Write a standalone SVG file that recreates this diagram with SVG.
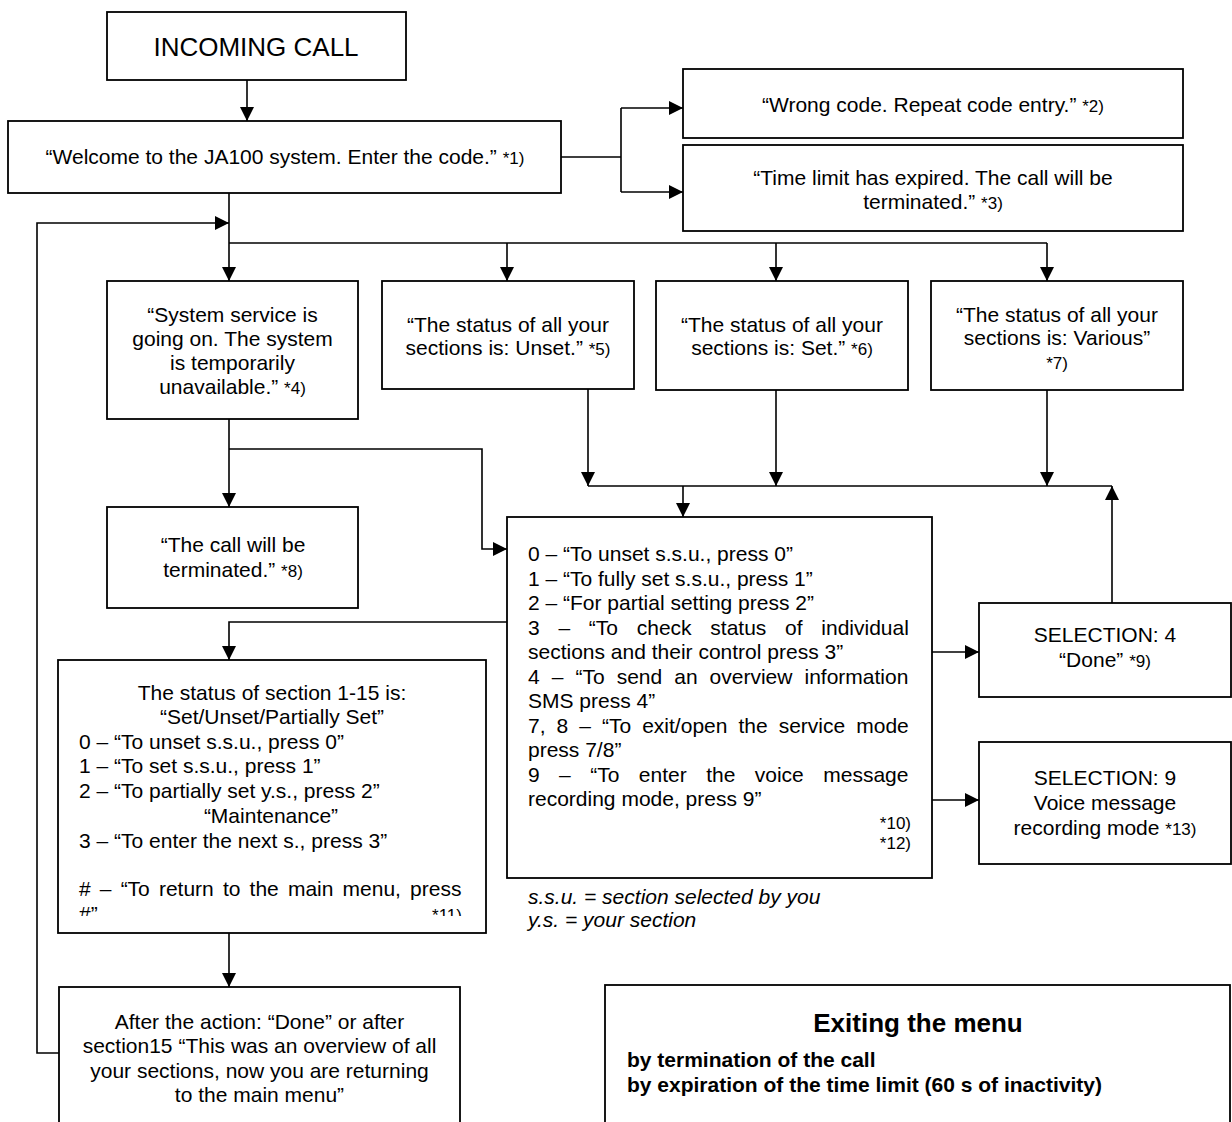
<svg xmlns="http://www.w3.org/2000/svg" width="1232" height="1122" viewBox="0 0 1232 1122">
<defs>
<marker id="ah" markerUnits="userSpaceOnUse" markerWidth="14" markerHeight="14" refX="14" refY="7" orient="auto">
<path d="M0,0 L14,7 L0,14 z" fill="#000"/>
</marker>
<clipPath id="clipStatus"><rect x="58" y="660" width="428" height="256"/></clipPath>
</defs>
<style>
.box{fill:#fff;stroke:#000;stroke-width:1.8}
.t{font-family:"Liberation Sans",Arial,sans-serif;font-size:21px;fill:#000}
.c{text-anchor:middle}
.r{text-anchor:end}
.fn{font-size:17px}
.big{font-size:26px}
.b{font-weight:bold}
.i{font-style:italic}
.ln{fill:none;stroke:#000;stroke-width:1.6}
.ar{marker-end:url(#ah)}
</style>
<rect width="1232" height="1122" fill="#fff"/>

<g id="connectors">
<path class="ln ar" d="M247,80 V121"/>
<path class="ln" d="M561,157 H621 M621,108 V192"/>
<path class="ln ar" d="M621,108 H683"/>
<path class="ln ar" d="M621,192 H683"/>
<path class="ln ar" d="M229,193 V281"/>
<path class="ln ar" d="M59,1053 H37 V223 H229"/>
<path class="ln" d="M229,243 H1047"/>
<path class="ln ar" d="M507,243 V281"/>
<path class="ln ar" d="M776,243 V281"/>
<path class="ln ar" d="M1047,243 V281"/>
<path class="ln ar" d="M588,389 V486"/>
<path class="ln ar" d="M776,390 V486"/>
<path class="ln ar" d="M1047,390 V486"/>
<path class="ln" d="M588,486 H1112"/>
<path class="ln ar" d="M683,486 V517"/>
<path class="ln ar" d="M1112,603 V486"/>
<path class="ln ar" d="M229,419 V507"/>
<path class="ln ar" d="M229,449 H482 V549 H507"/>
<path class="ln ar" d="M507,622 H229 V660"/>
<path class="ln ar" d="M932,652 H979"/>
<path class="ln ar" d="M932,800 H979"/>
<path class="ln ar" d="M229,933 V987"/>
</g>

<g id="incoming">
<rect class="box" x="107" y="12" width="299" height="68"/>
<text class="t c big" x="256" y="56">INCOMING CALL</text>
</g>

<g id="welcome">
<rect class="box" x="8" y="121" width="553" height="72"/>
<text class="t c" x="285" y="164">“Welcome to the JA100 system. Enter the code.” <tspan class="fn">*1)</tspan></text>
</g>

<g id="wrong-code">
<rect class="box" x="683" y="69" width="500" height="69"/>
<text class="t c" x="933" y="112">“Wrong code. Repeat code entry.” <tspan class="fn">*2)</tspan></text>
</g>

<g id="time-limit">
<rect class="box" x="683" y="145" width="500" height="86"/>
<text class="t c" x="933" y="185">“Time limit has expired. The call will be</text>
<text class="t c" x="933" y="209">terminated.” <tspan class="fn">*3)</tspan></text>
</g>

<g id="system-service">
<rect class="box" x="107" y="281" width="251" height="138"/>
<text class="t c" x="232.5" y="322">“System service is</text>
<text class="t c" x="232.5" y="346">going on. The system</text>
<text class="t c" x="232.5" y="370">is temporarily</text>
<text class="t c" x="232.5" y="394">unavailable.” <tspan class="fn">*4)</tspan></text>
</g>

<g id="status-unset">
<rect class="box" x="382" y="281" width="252" height="108"/>
<text class="t c" x="508" y="332">“The status of all your</text>
<text class="t c" x="508" y="355">sections is: Unset.” <tspan class="fn">*5)</tspan></text>
</g>

<g id="status-set">
<rect class="box" x="656" y="281" width="252" height="109"/>
<text class="t c" x="782" y="332">“The status of all your</text>
<text class="t c" x="782" y="355">sections is: Set.” <tspan class="fn">*6)</tspan></text>
</g>

<g id="status-various">
<rect class="box" x="931" y="281" width="252" height="109"/>
<text class="t c" x="1057" y="322">“The status of all your</text>
<text class="t c" x="1057" y="345">sections is: Various”</text>
<text class="t c fn" x="1057" y="369">*7)</text>
</g>

<g id="call-terminated">
<rect class="box" x="107" y="507" width="251" height="101"/>
<text class="t c" x="233" y="552">“The call will be</text>
<text class="t c" x="233" y="577">terminated.” <tspan class="fn">*8)</tspan></text>
</g>

<g id="main-menu">
<rect class="box" x="507" y="517" width="425" height="361"/>
<text class="t" x="528" y="561">0 – “To unset s.s.u., press 0”</text>
<text class="t" x="528" y="586">1 – “To fully set s.s.u., press 1”</text>
<text class="t" x="528" y="610">2 – “For partial setting press 2”</text>
<text class="t" x="528" y="635" word-spacing="12.9">3 – “To check status of individual</text>
<text class="t" x="528" y="659">sections and their control press 3”</text>
<text class="t" x="528" y="684" word-spacing="6.2">4 – “To send an overview information</text>
<text class="t" x="528" y="708">SMS press 4”</text>
<text class="t" x="528" y="733" word-spacing="5.2">7, 8 – “To exit/open the service mode</text>
<text class="t" x="528" y="757">press 7/8”</text>
<text class="t" x="528" y="782" word-spacing="13.6">9 – “To enter the voice message</text>
<text class="t" x="528" y="806">recording mode, press 9”</text>
<text class="t r fn" x="911" y="829">*10)</text>
<text class="t r fn" x="911" y="849">*12)</text>
</g>

<g id="legend">
<text class="t i" x="528" y="904">s.s.u. = section selected by you</text>
<text class="t i" x="528" y="927">y.s. = your section</text>
</g>

<g id="selection-4">
<rect class="box" x="979" y="603" width="252" height="94"/>
<text class="t c" x="1105" y="642">SELECTION: 4</text>
<text class="t c" x="1105" y="667">“Done” <tspan class="fn">*9)</tspan></text>
</g>

<g id="selection-9">
<rect class="box" x="979" y="742" width="252" height="122"/>
<text class="t c" x="1105" y="785">SELECTION: 9</text>
<text class="t c" x="1105" y="810">Voice message</text>
<text class="t c" x="1105" y="835">recording mode <tspan class="fn">*13)</tspan></text>
</g>

<g id="section-status">
<rect class="box" x="58" y="660" width="428" height="273"/>
<g clip-path="url(#clipStatus)">
<text class="t c" x="272" y="700">The status of section 1-15 is:</text>
<text class="t c" x="272" y="724">“Set/Unset/Partially Set”</text>
<text class="t" x="79" y="749">0 – “To unset s.s.u., press 0”</text>
<text class="t" x="79" y="773">1 – “To set s.s.u., press 1”</text>
<text class="t" x="79" y="798">2 – “To partially set y.s., press 2”</text>
<text class="t c" x="271" y="823">“Maintenance”</text>
<text class="t" x="79" y="848">3 – “To enter the next s., press 3”</text>
<text class="t" x="79" y="896" word-spacing="3.3"># – “To return to the main menu, press</text>
<text class="t" x="79" y="921">#”</text>
<text class="t r fn" x="462" y="921">*11)</text>
</g>
</g>

<g id="after-action">
<rect class="box" x="59" y="987" width="401" height="160"/>
<text class="t c" x="259.5" y="1029">After the action: “Done” or after</text>
<text class="t c" x="259.5" y="1053">section15 “This was an overview of all</text>
<text class="t c" x="259.5" y="1078">your sections, now you are returning</text>
<text class="t c" x="259.5" y="1102">to the main menu”</text>
</g>

<g id="exiting-menu">
<rect class="box" x="605" y="985" width="625" height="160"/>
<text class="t c b big" x="918" y="1032">Exiting the menu</text>
<text class="t b" x="627" y="1067">by termination of the call</text>
<text class="t b" x="627" y="1092">by expiration of the time limit (60 s of inactivity)</text>
</g>
</svg>
